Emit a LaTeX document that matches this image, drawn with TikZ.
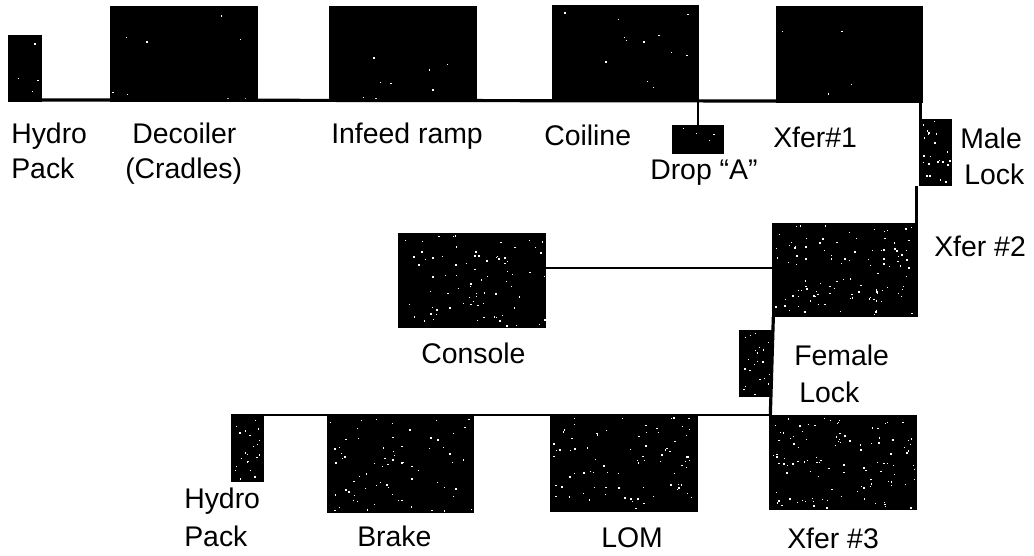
\documentclass[tikz,border=0pt]{standalone}
\usepackage{fontspec}
\setmainfont{Liberation Sans}
\tikzset{
  blk/.style={fill=black,draw=none,inner sep=0pt,outer sep=0pt,anchor=north west},
  lbl/.style={font=\fontsize{21.3}{24}\selectfont,text=black,inner sep=0pt,anchor=base west},
  wire/.style={line width=2.4pt,black},
  thinwire/.style={line width=1.9pt,black}
}
% white scan speckle inside a box: x, y, w, h, count
\newcommand{\specks}[5]{%
  \foreach \n in {1,...,#5}{%
    \pgfmathsetmacro{\px}{#1+2+rnd*(#3-4)}%
    \pgfmathsetmacro{\py}{#2+2+rnd*(#4-4)}%
    \pgfmathsetmacro{\ps}{0.7+rnd*1.2}%
    \fill[white] (\px,\py) rectangle +(\ps,\ps);
  }}
\begin{document}
\begin{tikzpicture}[x=0.75pt,y=-0.75pt]
\useasboundingbox (0,0) rectangle (1034,556);
\fill[white] (0,0) rectangle (1034,556);
\pgfmathsetseed{4711}
% boxes
\node[blk,minimum width=34*0.75pt,minimum height=67*0.75pt] (hp1) at (8,35) {};
\node[blk,minimum width=148*0.75pt,minimum height=96*0.75pt] (dec) at (110,6) {};
\node[blk,minimum width=148*0.75pt,minimum height=96*0.75pt] (inf) at (329,6) {};
\node[blk,minimum width=147*0.75pt,minimum height=97*0.75pt] (coil) at (552,5) {};
\node[blk,minimum width=147*0.75pt,minimum height=97*0.75pt] (x1) at (776,6) {};
\node[blk,minimum width=52*0.75pt,minimum height=29*0.75pt] (drop) at (672,125) {};
\node[blk,minimum width=33*0.75pt,minimum height=67*0.75pt] (ml) at (919,119) {};
\node[blk,minimum width=148*0.75pt,minimum height=95*0.75pt] (con) at (398,233) {};
\node[blk,minimum width=146*0.75pt,minimum height=94*0.75pt] (x2) at (772,223) {};
\node[blk,minimum width=33*0.75pt,minimum height=67*0.75pt] (fl) at (739,330) {};
\node[blk,minimum width=33*0.75pt,minimum height=67*0.75pt] (hp2) at (231,415) {};
\node[blk,minimum width=147*0.75pt,minimum height=98*0.75pt] (brk) at (327,415) {};
\node[blk,minimum width=148*0.75pt,minimum height=97*0.75pt] (lom) at (550,415) {};
\node[blk,minimum width=148*0.75pt,minimum height=95*0.75pt] (x3) at (769,415) {};
% speckle
\specks{8}{35}{34}{67}{4}
\specks{110}{6}{148}{96}{8}
\specks{329}{6}{148}{96}{8}
\specks{552}{5}{147}{97}{12}
\specks{776}{6}{147}{97}{4}
\specks{672}{125}{52}{29}{4}
\specks{919}{119}{33}{67}{22}
\specks{398}{233}{148}{95}{80}
\specks{772}{223}{146}{94}{110}
\specks{739}{330}{33}{67}{22}
\specks{231}{415}{33}{67}{22}
\specks{327}{415}{147}{98}{70}
\specks{550}{415}{148}{97}{80}
\specks{769}{415}{148}{95}{110}
% helper coordinate
\coordinate (cw) at (546,268);
% wires
\draw[wire] ([yshift=1.5pt]hp1.south east) -- ([yshift=1.5pt]x1.south west);
\draw[thinwire] (drop.north) -- (drop.north |- coil.south);
\draw[wire] ([xshift=1.2pt]ml.north west) -- ([xshift=1.2pt]ml.north west |- x1.south);
\draw[wire] ([xshift=-1pt]x2.north east) -- ([xshift=-1pt]x2.north east |- ml.south);
\draw[thinwire] (cw) -- (cw -| x2.west);
\draw[wire] ([xshift=1pt]x2.south west) -- ([xshift=1pt]x3.north west);
\draw[thinwire] (hp2.north west) -- (x3.north west);
% labels
\node[lbl] (l1) at (11,143) {Hydro};
\node[lbl] (l2) at (11,178) {Pack};
\node[lbl] (l3) at (132,143) {Decoiler};
\node[lbl] (l4) at (125,178) {(Cradles)};
\node[lbl] (l5) at (331,144) {Infeed ramp};
\node[lbl] (l6) at (544,146) {Coiline};
\node[lbl] (l7) at (650,180) {Drop “A”};
\node[lbl] (l8) at (773,147) {Xfer\#1};
\node[lbl] (l9) at (960,148) {Male};
\node[lbl] (l10) at (964,184) {Lock};
\node[lbl] (l11) at (934,256) {Xfer \#2};
\node[lbl] (l12) at (421,363) {Console};
\node[lbl] (l13) at (794,365) {Female};
\node[lbl] (l14) at (799,402) {Lock};
\node[lbl] (l15) at (184,508) {Hydro};
\node[lbl] (l16) at (184,546) {Pack};
\node[lbl] (l17) at (357,546) {Brake};
\node[lbl] (l18) at (601,547) {LOM};
\node[lbl] (l19) at (787,548) {Xfer \#3};
\end{tikzpicture}
\end{document}
